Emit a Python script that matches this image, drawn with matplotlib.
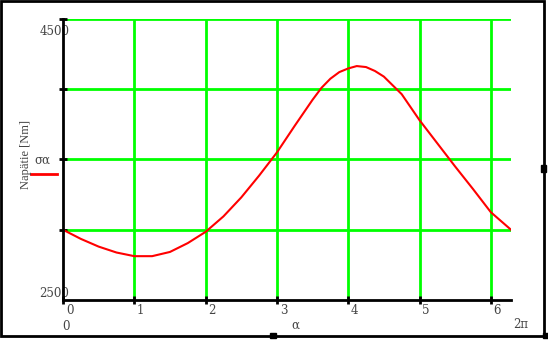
import numpy as np
import matplotlib
matplotlib.use("Agg")
from matplotlib import pyplot as plt
from matplotlib.patches import Rectangle

# angle alpha [rad] and stress values
alpha = [0.0, 0.25, 0.5, 0.75, 1.0, 1.25, 1.5, 1.75, 2.0, 2.25, 2.5, 2.75,
         3.0, 3.25, 3.5, 3.625, 3.75, 3.875, 4.0, 4.12, 4.25, 4.375, 4.5,
         4.75, 5.0, 5.25, 5.5, 5.75, 6.0, 2 * np.pi]
sigma = [3000, 2935, 2880, 2838, 2812, 2812, 2842, 2905, 2985, 3095, 3230, 3385,
         3550, 3740, 3925, 4010, 4075, 4122, 4148, 4165, 4158, 4130, 4090,
         3965, 3780, 3615, 3450, 3290, 3125, 3000]

x_ticks = [0, 1, 2, 3, 4, 5, 6]
y_grid = [3000, 3500, 4000, 4500]
y_min, y_max = 2500, 4500

W, H = 548, 340
fig = plt.figure(figsize=(W / 100, H / 100), dpi=100)

def fx(px):
    return px / W

def fy(py):
    return 1 - py / H

ax = fig.add_axes([fx(63), fy(300), fx(511) - fx(63), fy(19) - fy(300)])
ax.set_xlim(0, 2 * np.pi)
ax.set_ylim(y_min, y_max)

green = "#00ff00"
for xv in x_ticks[1:]:
    ax.axvline(xv, color=green, lw=2, zorder=1)
for yv in y_grid:
    ax.axhline(yv, color=green, lw=2, zorder=1)

ax.plot(alpha, sigma, color="red", lw=1.5, zorder=3)

for s in ["top", "right"]:
    ax.spines[s].set_visible(False)
for s in ["left", "bottom"]:
    ax.spines[s].set_color("black")
    ax.spines[s].set_linewidth(2)
    ax.spines[s].set_zorder(4)

ax.set_xticks(x_ticks)
ax.set_xticklabels([])
ax.set_yticks(y_grid)
ax.set_yticklabels([])
ax.tick_params(axis="both", direction="inout", length=6, width=2, color="black")

serif = "DejaVu Serif"
gray = "#444444"
fs = 8.5
for xv in x_ticks:
    ax.annotate(str(xv), (xv, y_min), xytext=(2, -3), textcoords="offset points",
                ha="left", va="top", fontsize=fs, family=serif, color=gray)

ax.annotate("4500", (0, y_max), xytext=(-17, -4), textcoords="offset points",
            ha="left", va="top", fontsize=fs, family=serif, color=gray)
ax.annotate("2500", (0, y_min), xytext=(-17, 0), textcoords="offset points",
            ha="left", va="bottom", fontsize=fs, family=serif, color=gray)

fig.text(fx(62), fy(326), "0", ha="left", va="center", fontsize=fs, family=serif, color=gray)
fig.text(fx(291), fy(325), "\u03b1", ha="left", va="center", fontsize=fs, family=serif, color=gray)
fig.text(fx(513), fy(325), "2\u03c0", ha="left", va="center", fontsize=fs, family=serif, color=gray)

fig.text(fx(26), fy(155), "Napätie [Nm]", rotation=90, ha="center", va="center",
         fontsize=9, family="Liberation Serif", color=gray)
fig.text(fx(34), fy(160), "\u03c3\u03b1", ha="left", va="center", fontsize=fs,
         family=serif, color=gray)
fig.add_artist(plt.Line2D([fx(31), fx(57)], [fy(174), fy(174)], color="red", lw=2))

# outer frame with handle squares
fig.add_artist(Rectangle((fx(1), fy(336)), fx(544) - fx(1), fy(1) - fy(336),
                         fill=False, edgecolor="black", lw=2, transform=fig.transFigure))
for (px, py, w, h) in [(541, 165, 5, 7), (270, 333, 6, 5), (543, 333, 5, 5)]:
    fig.add_artist(Rectangle((fx(px), fy(py + h)), w / W, h / H, color="black",
                             transform=fig.transFigure))

fig.savefig("out.png", dpi=100)
